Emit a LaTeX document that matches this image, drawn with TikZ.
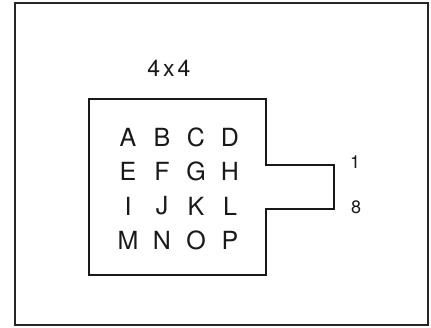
\documentclass[tikz,border=0pt]{standalone}
\usepackage{fontspec}
\setmainfont{TeX Gyre Heros}
\usetikzlibrary{positioning}
\tikzset{
  frame/.style={draw=black!85, line width=1.3pt},
  chip/.style={draw=black!90, line width=1.9pt, line join=miter},
  pin/.style={font=\fontsize{25}{25}\selectfont, inner sep=0pt, text=black!90},
  lead/.style={font=\fontsize{18}{18}\selectfont, inner sep=0pt, text=black!90},
  ttl/.style={font=\fontsize{23}{23}\selectfont, inner sep=0pt, text=black!90},
}
\begin{document}
\begin{tikzpicture}[x=1pt, y=-1pt]
  \useasboundingbox (0,0) rectangle (431,327);
  % outer frame
  \draw[frame] (15,3) rectangle (428,325);
  % keypad outline with connector tab
  \draw[chip] (89,99) -- (266,99) -- (266,165) -- (334,165) -- (334,209)
    -- (266,209) -- (266,275) -- (89,275) -- cycle;
  \node[ttl] (title) at (169,68) {4\kern3pt x\kern3pt 4};
  % key letters
  \foreach \ltr [count=\i from 0] in {A,B,C,D,E,F,G,H,I,J,K,L,M,N,O,P} {
    \pgfmathtruncatemacro\col{mod(\i,4)}
    \pgfmathtruncatemacro\row{div(\i,4)}
    \node[pin] (k\ltr) at ({128+34*\col},{137+34.5*\row}) {\ltr};
  }
  % lead numbers
  \node[lead] (lone) at (355,162) {1};
  \node[lead] (leight) at (356,207) {8};
\end{tikzpicture}
\end{document}
